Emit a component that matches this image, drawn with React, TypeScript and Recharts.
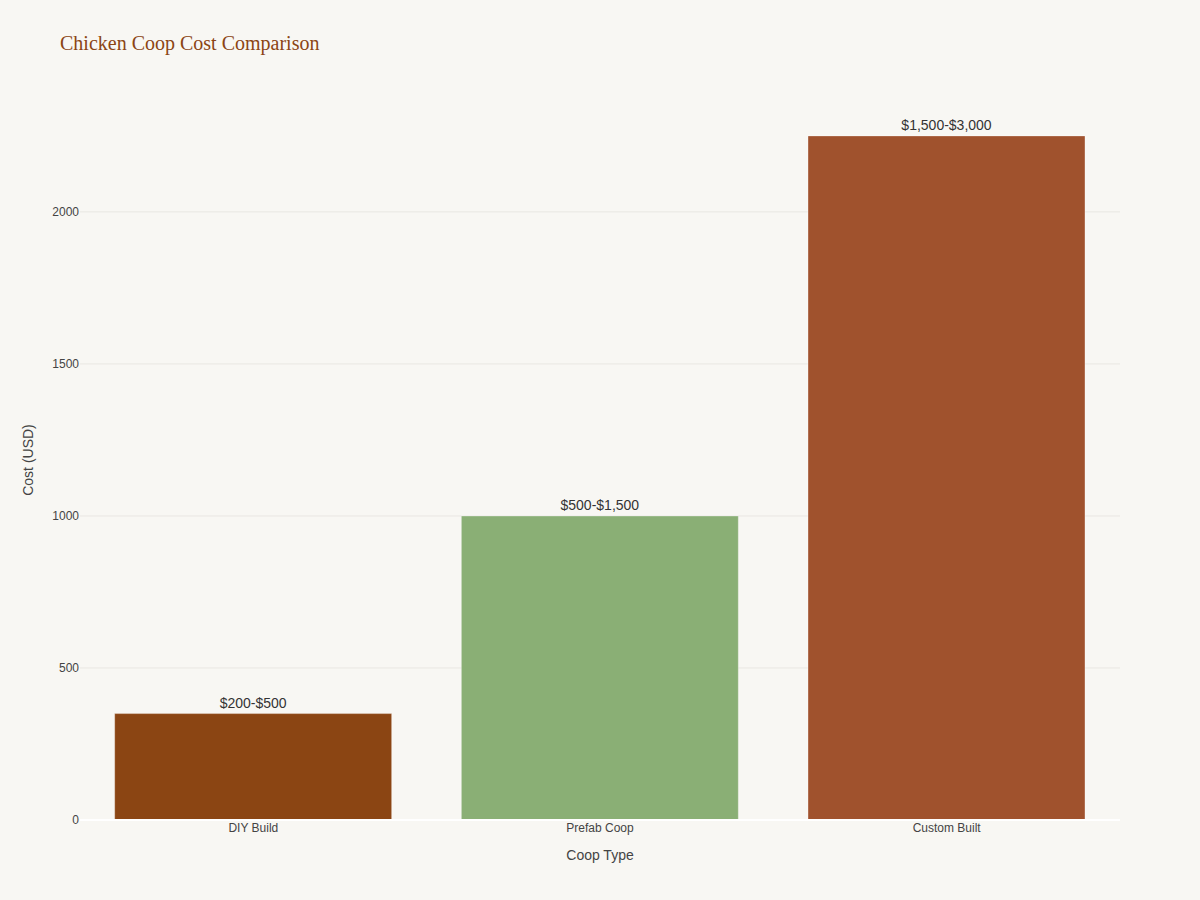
import React from 'react';
import {
  BarChart,
  Bar,
  XAxis,
  YAxis,
  CartesianGrid,
  ReferenceLine,
  LabelList,
  Cell,
} from 'recharts';

const coopTypes = ['DIY Build', 'Prefab Coop', 'Custom Built'];
const midCosts = [350, 1000, 2250];
const costRanges = ['$200-$500', '$500-$1,500', '$1,500-$3,000'];
const barColors = ['#8B4513', '#8AAF75', '#A0522D'];
const yTicks = [0, 500, 1000, 1500, 2000];

const data = coopTypes.map((type, i) => ({
  type,
  cost: midCosts[i],
  range: costRanges[i],
}));

const tickStyle = { fontFamily: '"Liberation Sans", Arial, sans-serif', fontSize: 12, fill: '#444' };

const App: React.FC = () => {
  return (
    <div
      style={{
        position: 'fixed',
        top: 0,
        left: 0,
        width: 1200,
        height: 900,
        background: '#f8f7f3',
      }}
    >
      <div
        style={{
          position: 'absolute',
          left: 60,
          top: 29,
          fontFamily: '"Liberation Serif", "Times New Roman", serif',
          fontSize: 20,
          color: '#8B4513',
          lineHeight: '28px',
        }}
      >
        Chicken Coop Cost Comparison
      </div>
      <BarChart
        width={1200}
        height={900}
        data={data}
        margin={{ top: 100, right: 80, bottom: 20, left: 0 }}
        barCategoryGap="10%"
      >
        <CartesianGrid
          vertical={false}
          horizontalValues={yTicks.slice(1)}
          stroke="#e9e7e2"
          strokeWidth={1}
        />
        <XAxis
          dataKey="type"
          height={60}
          tickLine={false}
          tickSize={0}
          axisLine={false}
          tick={tickStyle}
          tickMargin={3}
          label={{
            value: 'Coop Type',
            position: 'insideBottom',
            offset: 20,
            style: { fontFamily: '"Liberation Sans", Arial, sans-serif', fontSize: 14, fill: '#444' },
          }}
        />
        <YAxis
          width={80}
          domain={[0, 2368]}
          ticks={yTicks}
          tickLine={false}
          tickSize={0}
          axisLine={false}
          tick={tickStyle}
          tickMargin={1}
          label={{
            value: 'Cost (USD)',
            angle: -90,
            position: 'insideLeft',
            offset: 28,
            style: {
              textAnchor: 'middle',
              fontFamily: '"Liberation Sans", Arial, sans-serif',
              fontSize: 14,
              fill: '#444',
            },
          }}
        />
        <ReferenceLine y={0} stroke="#ffffff" strokeWidth={2} />
        <Bar dataKey="cost" isAnimationActive={false} stroke="#ffffff" strokeOpacity={0.35} strokeWidth={1}>
          {data.map((d, i) => (
            <Cell key={d.type} fill={barColors[i]} />
          ))}
          <LabelList
            dataKey="range"
            position="top"
            offset={6}
            style={{ fontFamily: '"Liberation Sans", Arial, sans-serif', fontSize: 14, fill: '#333' }}
          />
        </Bar>
      </BarChart>
    </div>
  );
};

export default App;
